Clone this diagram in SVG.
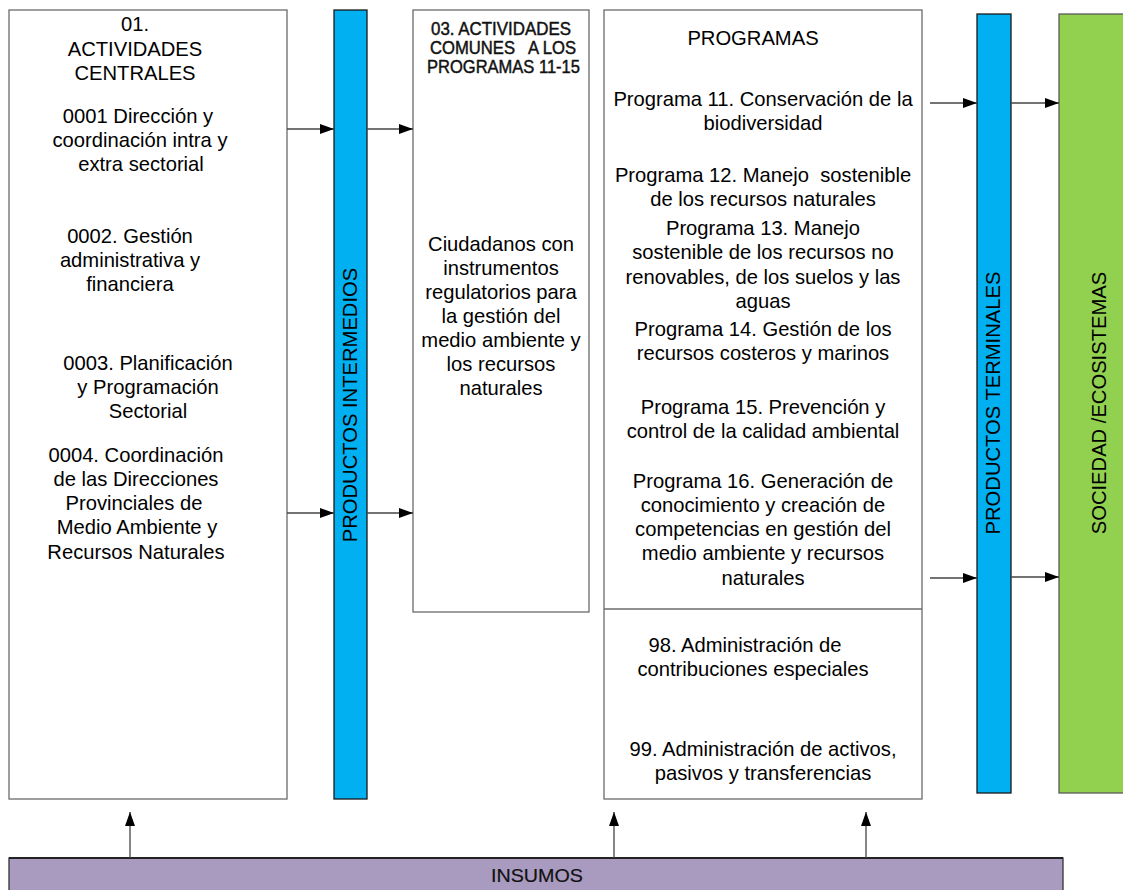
<svg xmlns="http://www.w3.org/2000/svg" width="1123" height="890" viewBox="0 0 1123 890">
<defs>
<marker id="ah" markerWidth="14" markerHeight="10" refX="14" refY="5" orient="auto" markerUnits="userSpaceOnUse"><path d="M0,0 L14,5 L0,10 Z" fill="#000"/></marker>
<style>
.box{fill:#fff;stroke:#6b6b6b;stroke-width:1.3}
.t{font-family:"Liberation Sans",Arial,sans-serif;font-size:20.2px;fill:#000;text-anchor:middle}
.h{font-family:"Liberation Sans",Arial,sans-serif;font-size:17.5px;fill:#111;stroke:#111;stroke-width:0.45;text-anchor:middle}
.c{stroke:#444;stroke-width:1.3;fill:none;marker-end:url(#ah)}
</style>
</defs>
<rect width="1123" height="890" fill="#fff"/>
<g id="central">
<rect class="box" x="9" y="10" width="278" height="789"/>
<text class="t" x="135" y="31">01.</text>
<text class="t" x="135" y="56">ACTIVIDADES</text>
<text class="t" x="135" y="80">CENTRALES</text>
<text class="t" x="138" y="123">0001 Dirección y</text>
<text class="t" x="140" y="147">coordinación intra y</text>
<text class="t" x="141" y="171">extra sectorial</text>
<text class="t" x="130" y="243">0002. Gestión</text>
<text class="t" x="130" y="267">administrativa y</text>
<text class="t" x="130" y="291">financiera</text>
<text class="t" x="148" y="370">0003. Planificación</text>
<text class="t" x="148" y="394">y Programación</text>
<text class="t" x="148" y="418">Sectorial</text>
<text class="t" x="136" y="462">0004. Coordinación</text>
<text class="t" x="136" y="486">de las Direcciones</text>
<text class="t" x="134" y="510">Provinciales de</text>
<text class="t" x="137" y="534">Medio Ambiente y</text>
<text class="t" x="136" y="559">Recursos Naturales</text>
</g>
<g id="intermedios">
<rect x="334" y="10" width="33" height="789" fill="#00b0f0" stroke="#1a1a1a" stroke-width="1.3"/>
<text class="t" transform="translate(357,405) rotate(-90)">PRODUCTOS INTERMEDIOS</text>
</g>
<g id="comunes">
<rect class="box" x="413" y="10" width="176" height="602"/>
<text class="h" x="501" y="35" textLength="140" lengthAdjust="spacingAndGlyphs">03. ACTIVIDADES</text>
<text class="h" x="503" y="54" textLength="146" lengthAdjust="spacingAndGlyphs" xml:space="preserve">COMUNES   A LOS</text>
<text class="h" x="503.5" y="73" textLength="153" lengthAdjust="spacingAndGlyphs">PROGRAMAS 11-15</text>
<text class="t" x="501" y="251">Ciudadanos con</text>
<text class="t" x="501" y="275">instrumentos</text>
<text class="t" x="501" y="299">regulatorios para</text>
<text class="t" x="501" y="323">la gestión del</text>
<text class="t" x="501" y="347">medio ambiente y</text>
<text class="t" x="501" y="371">los recursos</text>
<text class="t" x="501" y="395">naturales</text>
</g>
<g id="programas">
<rect class="box" x="604" y="10" width="318" height="789"/>
<line x1="604" y1="609" x2="922" y2="609" stroke="#6b6b6b" stroke-width="1.3"/>
<text class="t" x="753" y="45">PROGRAMAS</text>
<text class="t" x="763" y="106">Programa 11. Conservación de la</text>
<text class="t" x="763" y="130">biodiversidad</text>
<text class="t" x="763" y="182" xml:space="preserve">Programa 12. Manejo  sostenible</text>
<text class="t" x="763" y="206">de los recursos naturales</text>
<text class="t" x="763" y="235">Programa 13. Manejo</text>
<text class="t" x="763" y="259">sostenible de los recursos no</text>
<text class="t" x="763" y="284">renovables, de los suelos y las</text>
<text class="t" x="763" y="308">aguas</text>
<text class="t" x="763" y="336">Programa 14. Gestión de los</text>
<text class="t" x="763" y="360">recursos costeros y marinos</text>
<text class="t" x="763" y="414">Programa 15. Prevención y</text>
<text class="t" x="763" y="438">control de la calidad ambiental</text>
<text class="t" x="763" y="488">Programa 16. Generación de</text>
<text class="t" x="763" y="512">conocimiento y creación de</text>
<text class="t" x="763" y="536">competencias en gestión del</text>
<text class="t" x="763" y="560">medio ambiente y recursos</text>
<text class="t" x="763" y="585">naturales</text>
<text class="t" x="745" y="652">98. Administración de</text>
<text class="t" x="753" y="676">contribuciones especiales</text>
<text class="t" x="763" y="756">99. Administración de activos,</text>
<text class="t" x="763" y="780">pasivos y transferencias</text>
</g>
<g id="terminales">
<rect x="977" y="14" width="34" height="779" fill="#00b0f0" stroke="#1a1a1a" stroke-width="1.3"/>
<text class="t" transform="translate(1000,403) rotate(-90)">PRODUCTOS TERMINALES</text>
</g>
<g id="sociedad">
<rect x="1059" y="14" width="70" height="779" fill="#92d050" stroke="#5a5a5a" stroke-width="1.3"/>
<text class="t" transform="translate(1106,403) rotate(-90)">SOCIEDAD /ECOSISTEMAS</text>
</g>
<g id="insumos">
<rect x="9" y="858" width="1054" height="40" fill="#a99bbf" stroke="#333" stroke-width="1.3"/>
<line x1="9" y1="858" x2="1063" y2="858" stroke="#222" stroke-width="2"/>
<text class="h" x="537" y="882" style="font-size:19px;stroke-width:0.2" textLength="92" lengthAdjust="spacingAndGlyphs">INSUMOS</text>
</g>
<g id="connectors">
<line class="c" x1="287" y1="129" x2="334" y2="129"/>
<line class="c" x1="367" y1="129" x2="413" y2="129"/>
<line class="c" x1="287" y1="513" x2="334" y2="513"/>
<line class="c" x1="367" y1="513" x2="413" y2="513"/>
<line class="c" x1="930" y1="103" x2="977" y2="103"/>
<line class="c" x1="1011" y1="103" x2="1059" y2="103"/>
<line class="c" x1="930" y1="578" x2="977" y2="578"/>
<line class="c" x1="1011" y1="577" x2="1059" y2="577"/>
<line class="c" x1="130" y1="858" x2="130" y2="812"/>
<line class="c" x1="614" y1="858" x2="614" y2="812"/>
<line class="c" x1="866" y1="858" x2="866" y2="812"/>
</g>
</svg>
